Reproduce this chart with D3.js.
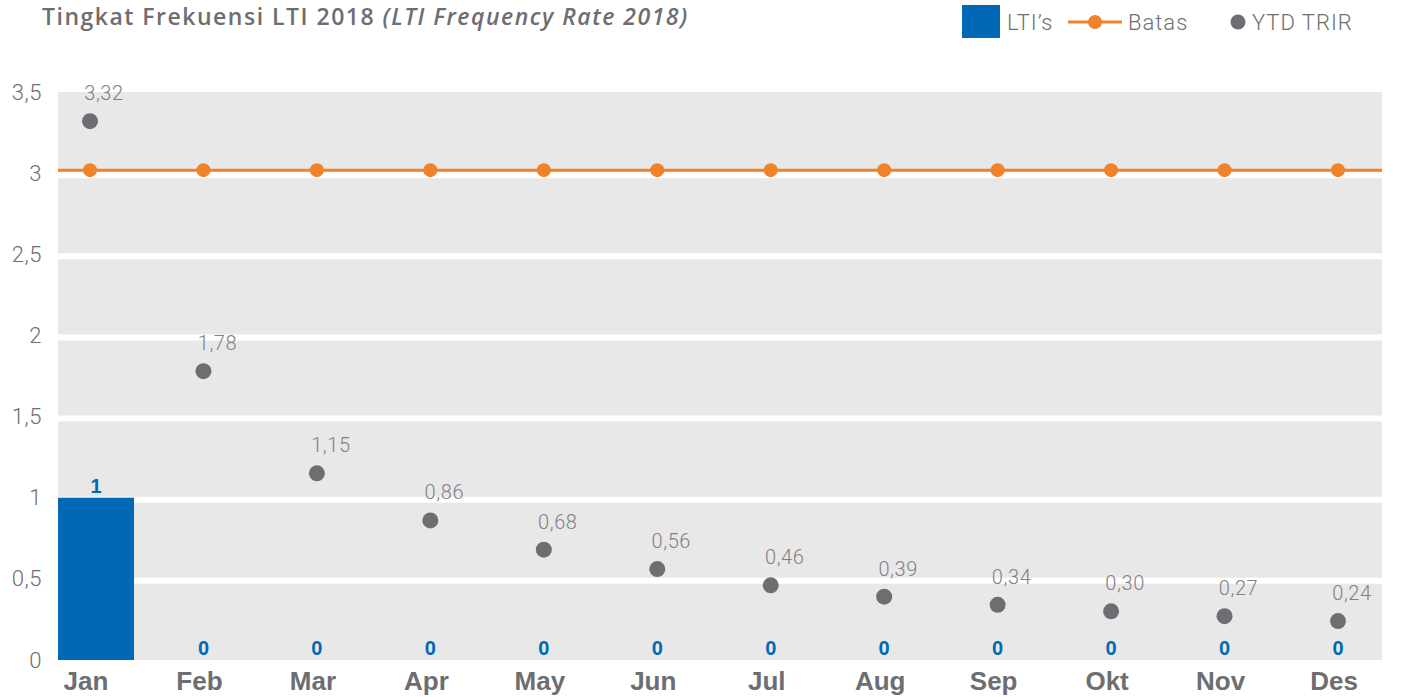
<!DOCTYPE html>
<html>
<head>
<meta charset="utf-8">
<script src="https://cdn.jsdelivr.net/npm/d3@7"></script>
<style>
  body { margin: 0; background: #fff; }
  svg { display: block; }
</style>
</head>
<body>
<svg width="1402" height="697"></svg>
<script>
// chart values
var months = ["Jan", "Feb", "Mar", "Apr", "May", "Jun", "Jul", "Aug", "Sep", "Okt", "Nov", "Des"]
var ltis = [1, 0, 0, 0, 0, 0, 0, 0, 0, 0, 0, 0]
var batas = [3, 3, 3, 3, 3, 3, 3, 3, 3, 3, 3, 3]
var ytdTrir = [3.32, 1.78, 1.15, 0.86, 0.68, 0.56, 0.46, 0.39, 0.34, 0.30, 0.27, 0.24]
var yTicks = [0, 0.5, 1, 1.5, 2, 2.5, 3, 3.5]

var grey = "#6d6e71"
var blue = "#0068b4"
var orange = "#f0832a"
var fmt = d => String(d).replace(".", ",")
var fmt2 = d => d.toFixed(2).replace(".", ",")

var svg = d3.select("svg")

// plot edges (pixels)
var plotL = 58, plotR = 1382, plotT = 92, plotB = 660

var scX = d3.scaleBand()
  .domain(months)
  .range([plotL, plotR])
  .paddingInner(0.33)
  .paddingOuter(0)

var scY = d3.scaleLinear()
  .domain([0, 3.5])
  .range([plotB, plotT])

var cx = m => scX(m) + scX.bandwidth() / 2

// grey plot background
svg.append("rect")
  .attr("x", plotL).attr("y", scY(3.5))
  .attr("width", plotR - plotL).attr("height", scY(0) - scY(3.5))
  .attr("fill", "#e8e8e8")

// white grid bands
svg.append("g")
  .selectAll("line")
  .data(yTicks.filter(d => d > 0 && d < 3.5))
  .enter().append("line")
  .attr("x1", plotL).attr("x2", plotR)
  .attr("y1", d => scY(d) + 2).attr("y2", d => scY(d) + 2)
  .attr("stroke", "#fff").attr("stroke-width", 6)

// y axis labels
var yAxis = d3.axisLeft(scY).tickValues(yTicks).tickFormat(fmt).tickSize(0).tickPadding(16)
svg.append("g")
  .attr("transform", "translate(" + plotL + ",0)")
  .call(yAxis)
  .call(g => g.select(".domain").remove())
  .call(g => g.selectAll("text")
    .attr("fill", grey)
    .attr("font-family", "Roboto, sans-serif")
    .attr("font-weight", 300)
    .attr("font-size", 22)
    .attr("letter-spacing", 0.5))

// x axis labels
var xAxis = d3.axisBottom(scX).tickSize(0).tickPadding(12)
svg.append("g")
  .attr("transform", "translate(-10," + plotB + ")")
  .call(xAxis)
  .call(g => g.select(".domain").remove())
  .call(g => g.selectAll("text")
    .attr("fill", grey)
    .attr("font-family", "'Liberation Sans', Arial, sans-serif")
    .attr("font-weight", "bold")
    .attr("font-size", 26))

// LTI bars
svg.append("g")
  .selectAll("rect")
  .data(months)
  .enter().append("rect")
  .attr("x", scX)
  .attr("width", scX.bandwidth())
  .attr("y", (m, i) => scY(ltis[i]))
  .attr("height", (m, i) => scY(0) - scY(ltis[i]))
  .attr("fill", blue)

svg.append("g")
  .selectAll("text")
  .data(months)
  .enter().append("text")
  .attr("x", (m, i) => i == 0 ? cx(m) : cx(m) - 6)
  .attr("y", (m, i) => scY(ltis[i]) - 5)
  .attr("text-anchor", "middle")
  .attr("fill", blue)
  .attr("font-family", "'Liberation Sans', Arial, sans-serif")
  .attr("font-weight", "bold")
  .attr("font-size", 20)
  .text((m, i) => ltis[i])

// Batas line
svg.append("line")
  .attr("x1", plotL).attr("x2", plotR)
  .attr("y1", scY(batas[0]) - 3).attr("y2", scY(batas[batas.length - 1]) - 3)
  .attr("stroke", orange).attr("stroke-width", 3)
svg.append("g")
  .selectAll("circle")
  .data(batas)
  .enter().append("circle")
  .attr("r", 7)
  .attr("fill", orange)
  .attr("cx", (d, i) => cx(months[i]) - 6)
  .attr("cy", d => scY(d) - 3)

// YTD TRIR points
svg.append("g")
  .selectAll("circle")
  .data(ytdTrir)
  .enter().append("circle")
  .attr("r", 8)
  .attr("fill", grey)
  .attr("cx", (d, i) => cx(months[i]) - 6)
  .attr("cy", d => scY(d))

svg.append("g")
  .selectAll("text")
  .data(ytdTrir)
  .enter().append("text")
  .attr("x", (d, i) => cx(months[i]) + 8)
  .attr("y", d => scY(d) - 21)
  .attr("text-anchor", "middle")
  .attr("fill", "#808184")
  .attr("font-family", "Roboto, sans-serif")
  .attr("font-weight", 300)
  .attr("font-size", 20)
  .attr("letter-spacing", 0.6)
  .text(fmt2)

// title
var title = svg.append("text")
  .attr("x", 42).attr("y", 25)
  .attr("fill", grey)
  .attr("font-family", "'Open Sans', sans-serif")
  .attr("font-weight", 600)
  .attr("font-size", 23)
  .attr("letter-spacing", 1.5)
title.append("tspan").text("Tingkat Frekuensi LTI 2018 ")
title.append("tspan").attr("font-style", "italic").text("(LTI Frequency Rate 2018)")

// legend
var legend = svg.append("g")
  .attr("font-family", "Roboto, sans-serif")
  .attr("font-weight", 300)
  .attr("font-size", 22)
  .attr("letter-spacing", 1)
  .attr("fill", grey)
legend.append("rect").attr("x", 962).attr("y", 5).attr("width", 38).attr("height", 33).attr("fill", blue)
legend.append("text").attr("x", 1007).attr("y", 30).text("LTI\u2019s")
legend.append("line").attr("x1", 1068).attr("x2", 1122).attr("y1", 22).attr("y2", 22)
  .attr("stroke", orange).attr("stroke-width", 3)
legend.append("circle").attr("cx", 1095).attr("cy", 22).attr("r", 7).attr("fill", orange)
legend.append("text").attr("x", 1128).attr("y", 30).text("Batas")
legend.append("circle").attr("cx", 1238).attr("cy", 22).attr("r", 7.5).attr("fill", grey)
legend.append("text").attr("x", 1252).attr("y", 30).text("YTD TRIR")
</script>
</body>
</html>
